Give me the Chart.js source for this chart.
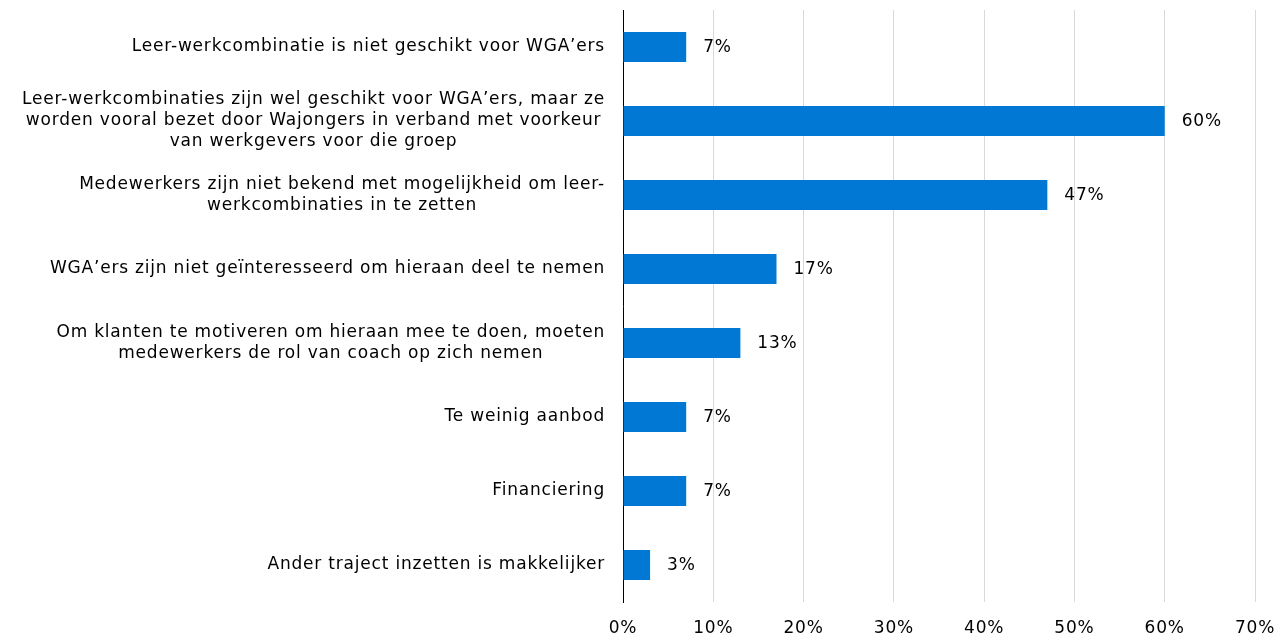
<!DOCTYPE html>
<html>
<head>
<meta charset="utf-8">
<script src="https://cdn.jsdelivr.net/npm/chart.js@4"></script>
<style>
  html, body { margin: 0; padding: 0; background: #fff; }
  #wrap { width: 1283px; height: 637px; position: relative; }
</style>
</head>
<body>
<div id="wrap"><canvas id="chart"></canvas></div>
<script>
// categorieen (meerregelig zoals in het origineel)
var categories = [
	["Leer-werkcombinatie is niet geschikt voor WGA\u2019ers"],
	["Leer-werkcombinaties zijn wel geschikt voor WGA\u2019ers, maar ze", "worden vooral bezet door Wajongers in verband met voorkeur", "van werkgevers voor die groep"],
	["Medewerkers zijn niet bekend met mogelijkheid om leer-", "werkcombinaties in te zetten"],
	["WGA\u2019ers zijn niet ge\u00efnteresseerd om hieraan deel te nemen"],
	["Om klanten te motiveren om hieraan mee te doen, moeten", "medewerkers de rol van coach op zich nemen"],
	["Te weinig aanbod"],
	["Financiering"],
	["Ander traject inzetten is makkelijker"]
];
var values = [7, 60, 47, 17, 13, 7, 7, 3];
var xTicks = [0, 10, 20, 30, 40, 50, 60, 70];

var FONT = "DejaVu Sans";
var SPACING = '0.8px';

// letterafstand iets breder (lijkt meer op Verdana)
var spacingPlugin = {
	id: 'spacing',
	beforeDraw: function(chart){
		chart.ctx.letterSpacing = SPACING;
	}
};

// labels links van de as, regels gecentreerd binnen het blok
var yLabelPlugin = {
	id: 'yLabels',
	afterDraw: function(chart){
		var ctx = chart.ctx;
		var yScale = chart.scales.y;
		var right = chart.chartArea.left - 18;
		var lh = 21;
		ctx.save();
		ctx.font = "17px '" + FONT + "'";
		ctx.letterSpacing = SPACING;
		ctx.fillStyle = '#000';
		ctx.textAlign = 'center';
		ctx.textBaseline = 'middle';
		categories.forEach(function(lines, i){
			var w = 0;
			lines.forEach(function(l){ w = Math.max(w, ctx.measureText(l).width); });
			var cx = right - w / 2;
			var cy = yScale.getPixelForValue(i);
			var y0 = cy - (lines.length - 1) * lh / 2;
			lines.forEach(function(l, j){
				ctx.fillText(l, cx, y0 + j * lh);
			});
		});
		ctx.restore();
	}
};

// waardelabels achter de balken
var valueLabelPlugin = {
	id: 'valueLabels',
	afterDatasetsDraw: function(chart){
		var ctx = chart.ctx;
		var meta = chart.getDatasetMeta(0);
		ctx.save();
		ctx.font = "17px '" + FONT + "'";
		ctx.letterSpacing = SPACING;
		ctx.fillStyle = '#000';
		ctx.textAlign = 'left';
		ctx.textBaseline = 'middle';
		meta.data.forEach(function(bar, i){
			ctx.fillText(values[i] + '%', bar.x + 17, bar.y + 1);
		});
		ctx.restore();
	}
};

var config = {
	type: 'bar',
	data: {
		labels: categories.map(function(c){ return c.join(' '); }),
		datasets: [{
			data: values,
			backgroundColor: '#0078d4',
			borderWidth: 0,
			barPercentage: 0.81,
			categoryPercentage: 0.5
		}]
	},
	options: {
		indexAxis: 'y',
		responsive: true,
		maintainAspectRatio: false,
		animation: false,
		layout: { padding: { top: 10, right: 0, bottom: 0, left: 0 } },
		plugins: {
			legend: { display: false },
			tooltip: { enabled: false }
		},
		scales: {
			x: {
				min: 0,
				max: 70,
				afterBuildTicks: function(scale){
					scale.ticks = xTicks.map(function(v){ return { value: v }; });
				},
				afterFit: function(scale){
					scale.height = 35;
					scale.paddingRight = 28;
				},
				ticks: {
					callback: function(v){ return v + '%'; },
					color: '#000',
					font: { family: FONT, size: 17 },
					padding: 16,
					maxRotation: 0
				},
				grid: { color: '#d9d9d9', lineWidth: 1, tickLength: 0, drawTicks: false },
				border: { display: false }
			},
			y: {
				ticks: { display: false },
				grid: { display: false },
				border: { display: true, color: '#000', width: 1 },
				afterFit: function(scale){ scale.width = 623; }
			}
		}
	},
	plugins: [spacingPlugin, yLabelPlugin, valueLabelPlugin]
};

new Chart(document.getElementById('chart'), config);
</script>
</body>
</html>
